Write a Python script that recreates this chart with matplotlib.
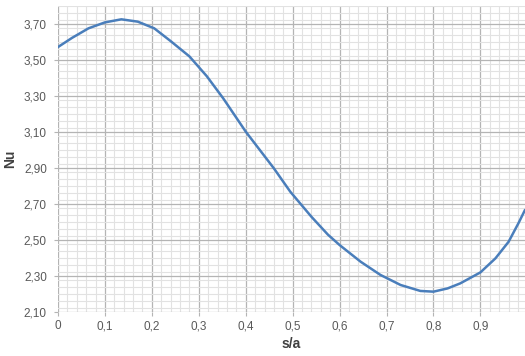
import numpy as np
import matplotlib
matplotlib.use("Agg")
import matplotlib.pyplot as plt
from matplotlib.ticker import MultipleLocator, FuncFormatter

# s/a vs Nu
s_a = [0.000, 0.030, 0.065, 0.100, 0.135, 0.170, 0.205, 0.240, 0.280, 0.317,
       0.352, 0.400, 0.460, 0.495, 0.540, 0.575, 0.600, 0.645, 0.687, 0.730,
       0.772, 0.800, 0.830, 0.857, 0.900, 0.932, 0.960, 0.981, 0.995]
nu = [3.572, 3.623, 3.676, 3.709, 3.726, 3.713, 3.676, 3.605, 3.520, 3.410,
      3.287, 3.102, 2.898, 2.768, 2.629, 2.530, 2.472, 2.379, 2.306, 2.250,
      2.217, 2.213, 2.231, 2.259, 2.320, 2.398, 2.490, 2.593, 2.667]

x_ticks = [0, 0.1, 0.2, 0.3, 0.4, 0.5, 0.6, 0.7, 0.8, 0.9]
y_ticks = [2.10, 2.30, 2.50, 2.70, 2.90, 3.10, 3.30, 3.50, 3.70]

plt.rcParams['font.family'] = ['Liberation Sans', 'DejaVu Sans']

fig = plt.figure(figsize=(5.25, 3.56), dpi=100)
ax = fig.add_axes([58/525, 1 - 312/356, 1 - 58/525, (312 - 6)/356])

ax.plot(s_a, nu, color='#4A7EBB', lw=1.8, solid_capstyle='round',
        solid_joinstyle='round', zorder=5)

ax.set_xlim(0, 0.995)
ax.set_ylim(2.1, 3.8)
ax.set_xticks(x_ticks)
ax.set_yticks(y_ticks)
ax.xaxis.set_minor_locator(MultipleLocator(0.02))
ax.yaxis.set_minor_locator(MultipleLocator(0.04))
ax.xaxis.set_major_formatter(FuncFormatter(lambda v, p: '0' if v == 0 else f'{v:.1f}'.replace('.', ',')))
ax.yaxis.set_major_formatter(FuncFormatter(lambda v, p: f'{v:.2f}'.replace('.', ',')))

ax.grid(which='major', color='#b4b4b4', lw=0.9)
ax.grid(which='minor', color='#e2e2e2', lw=0.8)
ax.set_axisbelow(True)
for sp in ax.spines.values():
    sp.set_visible(False)

ax.tick_params(which='major', length=3, color='#b4b4b4', labelsize=8.5,
               labelcolor='#595959')
ax.tick_params(axis='x', pad=3)
ax.tick_params(axis='y', pad=5)
ax.tick_params(which='minor', length=0)

ax.set_xlabel('s/a', fontsize=10, fontweight='bold', color='#404040', labelpad=3)
ax.set_ylabel('Nu', fontsize=10, fontweight='bold', color='#404040')
ax.yaxis.set_label_coords(-0.088, 0.5)

fig.savefig('out.png', dpi=100)
